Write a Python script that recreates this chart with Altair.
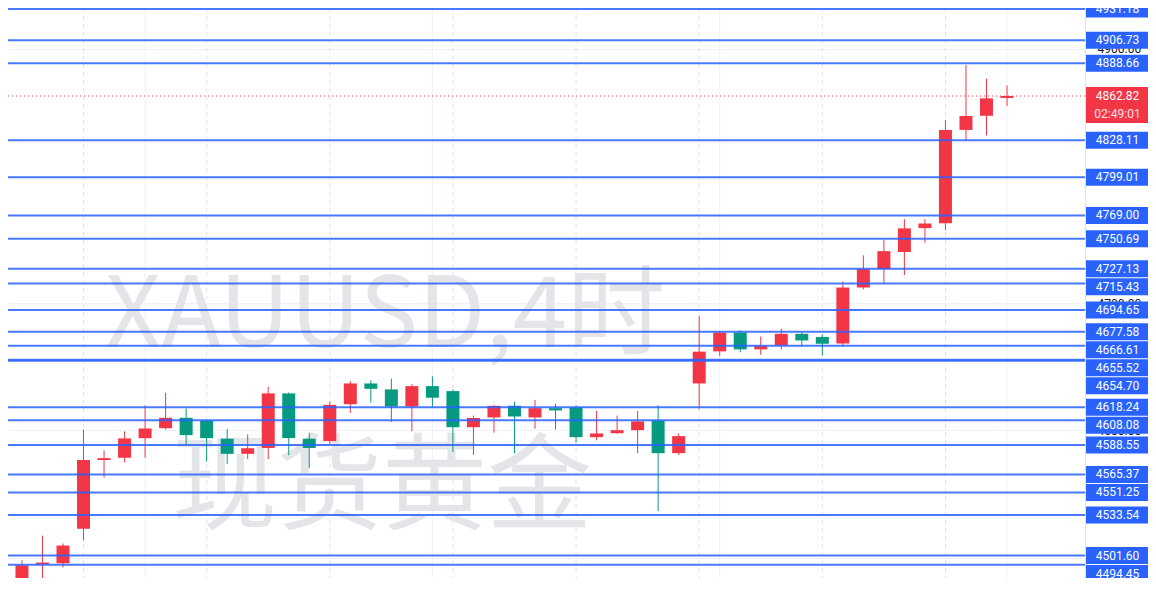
import altair as alt
import pandas as pd

# ---------------- data ----------------
opens = [4470.6, 4494.6, 4495.6, 4522.7, 4576.7, 4578.5, 4593.9, 4601.7, 4609.9, 4607.8,
         4593.5, 4581.6, 4586.2, 4629.1, 4593.5, 4591.6, 4620.6, 4636.9, 4632.2, 4618.8,
         4634.8, 4630.9, 4602.5, 4610.2, 4619.3, 4610.2, 4617.5, 4618.0, 4594.7, 4597.8,
         4600.2, 4607.7, 4582.1, 4636.9, 4662.1, 4676.9, 4663.7, 4666.8, 4675.9, 4673.5,
         4668.3, 4712.3, 4726.8, 4740.2, 4759.0, 4762.9, 4836.2, 4847.3, 4861.3]
highs = [4497.9, 4517.3, 4511.1, 4600.7, 4584.4, 4599.2, 4619.7, 4629.6, 4617.2, 4608.5,
         4601.3, 4596.8, 4634.3, 4629.8, 4598.2, 4622.6, 4638.7, 4639.4, 4640.8, 4636.4,
         4642.5, 4632.2, 4611.6, 4619.8, 4622.6, 4624.0, 4620.9, 4619.8, 4615.4, 4611.6,
         4615.4, 4619.8, 4597.6, 4689.8, 4678.2, 4678.7, 4673.8, 4680.0, 4677.4, 4675.6,
         4716.9, 4737.6, 4750.0, 4766.0, 4766.0, 4844.0, 4887.4, 4876.5, 4871.1]
lows = [4465.1, 4482.2, 4492.3, 4513.4, 4563.0, 4574.9, 4578.5, 4600.7, 4588.3, 4575.4,
        4573.6, 4577.5, 4577.5, 4580.6, 4570.3, 4589.1, 4613.7, 4621.9, 4606.7, 4599.4,
        4618.8, 4583.1, 4580.8, 4598.2, 4581.9, 4601.3, 4600.7, 4590.4, 4592.2, 4597.4,
        4582.1, 4536.6, 4580.8, 4616.7, 4658.3, 4661.4, 4659.4, 4663.7, 4665.8, 4658.8,
        4665.8, 4711.0, 4715.1, 4722.1, 4747.4, 4757.4, 4827.9, 4831.8, 4855.0]
closes = [4494.0, 4496.1, 4509.5, 4576.7, 4578.2, 4593.7, 4601.5, 4609.9, 4596.3, 4593.9,
          4581.6, 4586.0, 4629.1, 4594.0, 4586.2, 4620.1, 4636.9, 4632.7, 4618.8, 4634.8,
          4625.7, 4602.5, 4609.8, 4619.3, 4611.0, 4617.5, 4615.7, 4594.7, 4597.6, 4600.2,
          4607.1, 4582.1, 4595.5, 4661.9, 4676.9, 4663.7, 4666.3, 4675.9, 4670.7, 4668.1,
          4712.3, 4726.8, 4740.9, 4758.8, 4762.6, 4836.2, 4847.1, 4861.0, 4862.82]

level_prices = [4931.18, 4906.73, 4888.66, 4828.11, 4799.01, 4769.00, 4750.69, 4727.13,
                4715.43, 4694.65, 4677.58, 4666.61, 4655.52, 4654.70, 4618.24, 4608.08,
                4588.55, 4565.37, 4551.25, 4533.54, 4501.60, 4494.45]
last_price = 4862.82
countdown = "02:49:01"
axis_ticks = [4500, 4600, 4700, 4800, 4900]
day_breaks = [4, 10, 16, 22, 28, 34, 40, 46]
time_grid = [7, 21, 35, 49]
watermark_lines = ["XAUUSD,4时", "现货黄金"]

# ---------------- layout ----------------
W, H = 1077, 570
AXIS_W = 63
Y_DOM = [4484.0, 4932.0]
X_DOM = [0.32, 52.8]
RED, GREEN, BLUE = "#F23645", "#089981", "#2962FF"

px_per = H / (Y_DOM[1] - Y_DOM[0])
def to_px(p):
    return (Y_DOM[1] - p) * px_per
def to_price(y):
    return Y_DOM[1] - y / px_per

candles = pd.DataFrame({
    "idx": list(range(1, len(opens) + 1)),
    "open": opens, "high": highs, "low": lows, "close": closes,
})
candles["dir"] = ["up" if c >= o else "down" for o, c in zip(opens, closes)]

# price-axis labels, stacked top-down so they do not overlap (like TradingView)
entries = [(p, "level") for p in level_prices] + [(last_price, "last")]
entries.sort(key=lambda e: -e[0])
BOX = 18.0
cursor = -1e9
lab_rows, last_rows = [], []
for p, kind in entries:
    top = max(to_px(p) - BOX / 2, cursor)
    h = BOX if kind == "level" else 2 * BOX
    if kind == "level":
        lab_rows.append({"price": p, "label": f"{p:.2f}",
                         "ytop": to_price(top + 0.5), "ybot": to_price(top + BOX - 0.5),
                         "ymid": to_price(top + BOX / 2)})
    else:
        last_rows.append({"price": p, "label": f"{p:.2f}", "cd": countdown,
                          "ytop": to_price(top), "ybot": to_price(top + 2 * BOX),
                          "ymid": to_price(top + BOX / 2),
                          "ymid2": to_price(top + 1.5 * BOX)})
    cursor = top + h
labels = pd.DataFrame(lab_rows)
lastlab = pd.DataFrame(last_rows)
levels = pd.DataFrame({"price": level_prices})

ysc = alt.Scale(domain=Y_DOM, nice=False, zero=False, padding=0)
yax = alt.Axis(orient="right", values=axis_ticks, format=".2f", grid=True,
               gridColor="#eef1f7", gridWidth=1, ticks=False, domain=True,
               domainColor="#e0e3eb", labelColor="#131722", labelFontSize=12,
               labelFont="Roboto", labelPadding=12, title=None)
xsc = alt.Scale(domain=X_DOM, nice=False, zero=False, padding=0)

def Y(f):
    return alt.Y(f, type="quantitative", scale=ysc, axis=yax, title=None)
def Y2(f):
    return alt.Y2(f)
def X(f):
    return alt.X(f, type="quantitative", scale=xsc, axis=None, title=None)

color = alt.Color("dir:N", scale=alt.Scale(domain=["up", "down"], range=[RED, GREEN]),
                  legend=None)

base_c = alt.Chart(candles)

dash_grid = alt.Chart(pd.DataFrame({"idx": day_breaks})).mark_rule(
    color="#dfe2ea", strokeDash=[4, 4], strokeWidth=1
).encode(x=X("idx"), y=alt.value(0), y2=alt.value(H))

solid_grid = alt.Chart(pd.DataFrame({"idx": time_grid})).mark_rule(
    color="#eef1f7", strokeWidth=1
).encode(x=X("idx"), y=alt.value(0), y2=alt.value(H))

wm1 = alt.Chart(pd.DataFrame({"t": [watermark_lines[0]]})).mark_text(
    font="Noto Sans CJK SC", fontSize=98, color="#e4e5e9", align="center", baseline="middle"
).encode(text="t:N", x=alt.value(377), y=alt.value(310))

wm2 = alt.Chart(pd.DataFrame({"t": [watermark_lines[1]]})).mark_text(
    font="Noto Sans CJK SC", fontSize=105, color="#e4e5e9", align="center", baseline="middle"
).encode(text="t:N", x=alt.value(374), y=alt.value(481))

wicks = base_c.mark_rule(strokeWidth=1, clip=True).encode(
    x=X("idx"), y=Y("low"), y2=Y2("high"), color=color)

bodies = base_c.mark_bar(size=13, clip=True).encode(
    x=X("idx"), y=Y("open"), y2=Y2("close"), color=color)

level_lines = alt.Chart(levels).mark_rule(color=BLUE, strokeWidth=2, opacity=0.85).encode(
    y=Y("price"), x=alt.value(0), x2=alt.value(W))

last_line = alt.Chart(lastlab).mark_rule(color=RED, strokeWidth=1, strokeDash=[1, 3]).encode(
    y=Y("price"), x=alt.value(0), x2=alt.value(W))

lab_box = alt.Chart(labels).mark_rect(color=BLUE).encode(
    y=Y("ytop"), y2=Y2("ybot"), x=alt.value(W + 1), x2=alt.value(W + AXIS_W))

lab_txt = alt.Chart(labels).mark_text(
    color="white", font="Roboto", fontSize=12, align="center", baseline="middle"
).encode(y=Y("ymid"), x=alt.value(W + AXIS_W / 2 + 1), text="label:N")

last_box = alt.Chart(lastlab).mark_rect(color=RED).encode(
    y=Y("ytop"), y2=Y2("ybot"), x=alt.value(W + 1), x2=alt.value(W + AXIS_W))

last_txt = alt.Chart(lastlab).mark_text(
    color="white", font="Roboto", fontSize=12, align="center", baseline="middle"
).encode(y=Y("ymid"), x=alt.value(W + AXIS_W / 2 + 1), text="label:N")

last_cd = alt.Chart(lastlab).mark_text(
    color="#ffe3e6", font="Roboto", fontSize=12, align="center", baseline="middle"
).encode(y=Y("ymid2"), x=alt.value(W + AXIS_W / 2 + 1), text="cd:N")

chart = alt.layer(
    solid_grid, dash_grid, wm1, wm2, wicks, bodies, level_lines, last_line,
    lab_box, lab_txt, last_box, last_txt, last_cd
).properties(
    width=W, height=H,
    autosize=alt.AutoSizeParams(type="none"),
    padding={"left": 0, "top": 0, "right": AXIS_W, "bottom": 0},
    background="white",
).configure_view(stroke=None)

chart.save("out.html", embed_options={"renderer": "svg", "actions": False})
